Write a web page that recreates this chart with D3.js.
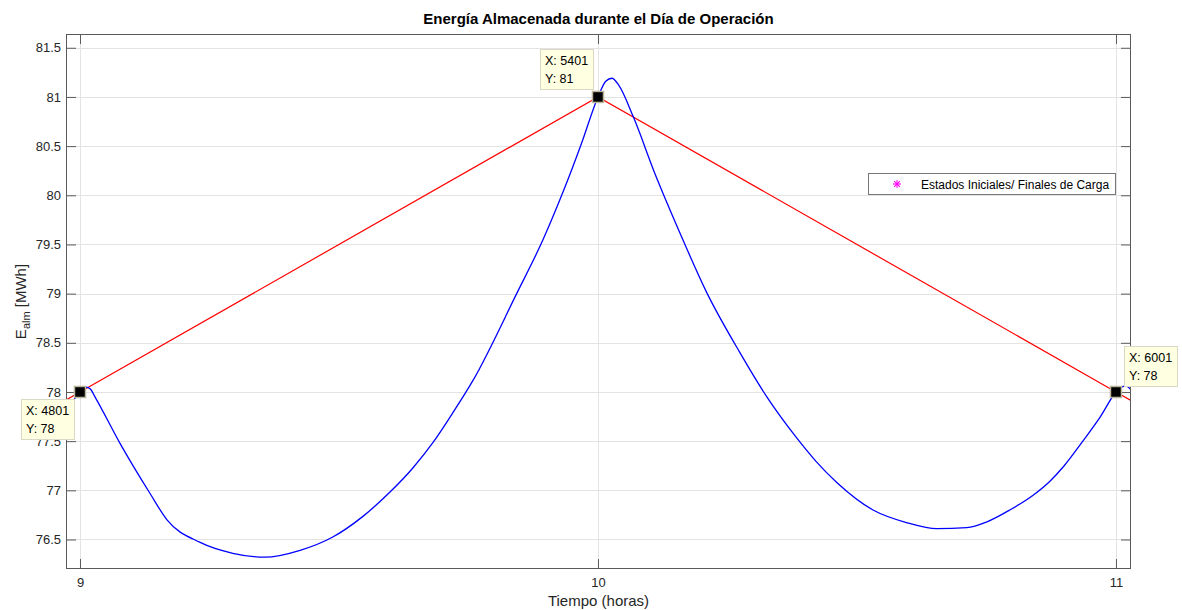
<!DOCTYPE html>
<html>
<head>
<meta charset="utf-8">
<script src="https://cdn.jsdelivr.net/npm/d3@7"></script>
<style>
  html, body { margin: 0; padding: 0; background: #fff; }
  svg { display: block; font-family: "Liberation Sans", Arial, Helvetica, sans-serif; }
</style>
</head>
<body>
<svg id="chart" width="1182" height="610"></svg>
<script>
// Stored energy over the operation day (hours vs MWh)
const hours = [8.973, 8.985, 9.0, 9.012, 9.02, 9.03, 9.077, 9.135, 9.168, 9.232, 9.295, 9.357, 9.425, 9.488, 9.545, 9.598, 9.643, 9.682, 9.72, 9.759, 9.843, 9.894, 9.933, 9.969, 10.0, 10.015, 10.027, 10.04, 10.068, 10.11, 10.158, 10.21, 10.274, 10.326, 10.384, 10.42, 10.461, 10.531, 10.597, 10.654, 10.712, 10.751, 10.795, 10.84, 10.872, 10.90, 10.936, 10.97, 11.0, 11.01, 11.02, 11.029];
const energy = [77.84, 77.9, 78.0, 78.05, 78.03, 77.94, 77.48, 76.97, 76.70, 76.47, 76.36, 76.32, 76.39, 76.525, 76.73, 76.98, 77.23, 77.49, 77.79, 78.12, 79.0, 79.55, 80.04, 80.54, 81.0, 81.16, 81.19, 81.12, 80.80, 80.22, 79.62, 79.01, 78.40, 77.95, 77.53, 77.30, 77.08, 76.80, 76.67, 76.61, 76.62, 76.68, 76.80, 76.95, 77.09, 77.25, 77.50, 77.75, 78.0, 78.05, 78.06, 78.02];

// Reference trajectory between initial / final charge states
const refHours = [8.95, 9, 10, 11, 11.05];
const refEnergy = [77.85, 78, 81, 78, 77.85];

// Initial / final charge states and their sample indices
const stateHours = [9, 10, 11];
const stateEnergy = [78, 81, 78];
const stateIndex = [4801, 5401, 6001];

const xTicks = [9, 10, 11];
const yTicks = [76.5, 77, 77.5, 78, 78.5, 79, 79.5, 80, 80.5, 81, 81.5];
const yTickLabels = ["76.5", "77", "77.5", "78", "78.5", "79", "79.5", "80", "80.5", "81", "81.5"];

const titleText = "Energía Almacenada durante el Día de Operación";
const xLabelText = "Tiempo (horas)";
const legendText = "Estados Iniciales/ Finales de Carga";

const L = 66, R = 1131, T = 34, B = 569;
const svg = d3.select("#chart");

const x = d3.scaleLinear().domain([8.973, 11.029]).range([L, R]);
const y = d3.scaleLinear().domain([76.2, 81.64]).range([B, T]);

const axisColor = "#5a5a5a";
const textColor = "#262626";
const gridColor = "#e3e3e3";

// Plot background
svg.append("rect").attr("x", L).attr("y", T).attr("width", R - L).attr("height", B - T).attr("fill", "#fff");

// Grid
const grid = svg.append("g");
grid.selectAll("line.gy").data(yTicks).join("line")
  .attr("x1", L).attr("x2", R)
  .attr("y1", d => Math.round(y(d)) + 0.5).attr("y2", d => Math.round(y(d)) + 0.5)
  .attr("stroke", gridColor).attr("stroke-width", 1);
grid.selectAll("line.gx").data(xTicks).join("line")
  .attr("y1", T).attr("y2", B)
  .attr("x1", d => Math.round(x(d)) + 0.5).attr("x2", d => Math.round(x(d)) + 0.5)
  .attr("stroke", gridColor).attr("stroke-width", 1);

// Clip for data lines
svg.append("clipPath").attr("id", "plotClip")
  .append("rect").attr("x", L).attr("y", T).attr("width", R - L).attr("height", B - T);

svg.append("path")
  .datum(refHours.map((h, i) => [h, refEnergy[i]]))
  .attr("clip-path", "url(#plotClip)")
  .attr("d", d3.line().x(d => x(d[0])).y(d => y(d[1])))
  .attr("fill", "none").attr("stroke", "#ff0000").attr("stroke-width", 1.2);

svg.append("path")
  .datum(hours.map((h, i) => [h, energy[i]]))
  .attr("clip-path", "url(#plotClip)")
  .attr("d", d3.line().x(d => x(d[0])).y(d => y(d[1])).curve(d3.curveMonotoneX))
  .attr("fill", "none").attr("stroke", "#0000ff").attr("stroke-width", 1.3);

// Asterisk marker
function asterisk(g, cx, cy, r, color) {
  [0, 45, 90, 135].forEach(deg => {
    const t = deg * Math.PI / 180;
    g.append("line")
      .attr("x1", cx - r * Math.cos(t)).attr("y1", cy - r * Math.sin(t))
      .attr("x2", cx + r * Math.cos(t)).attr("y2", cy + r * Math.sin(t))
      .attr("stroke", color).attr("stroke-width", 1.1);
  });
}
const marks = svg.append("g");
stateHours.forEach((h, i) => asterisk(marks, x(h), y(stateEnergy[i]), 4, "#ff00ff"));

// Axes (ticks pointing inward)
const fontTick = "13px";
const gx = svg.append("g").attr("transform", `translate(0,${B})`)
  .call(d3.axisBottom(x).tickValues(xTicks).tickSize(-10).tickPadding(9).tickFormat(d3.format("d")));
const gxTop = svg.append("g").attr("transform", `translate(0,${T})`)
  .call(d3.axisTop(x).tickValues(xTicks).tickSize(-10).tickFormat(""));
const gy = svg.append("g").attr("transform", `translate(${L},0)`)
  .call(d3.axisLeft(y).tickValues(yTicks).tickSize(-10).tickPadding(5).tickFormat((d, i) => yTickLabels[i]));
const gyRight = svg.append("g").attr("transform", `translate(${R},0)`)
  .call(d3.axisRight(y).tickValues(yTicks).tickSize(-10).tickFormat(""));

[gx, gxTop, gy, gyRight].forEach(g => {
  g.select(".domain").remove();
  g.selectAll(".tick line").attr("stroke", axisColor);
  g.selectAll(".tick text").attr("fill", textColor).style("font-size", fontTick)
    .style("font-family", '"Liberation Sans", Arial, sans-serif');
});

// Box
svg.append("rect").attr("x", L + 0.5).attr("y", T + 0.5).attr("width", R - L - 1).attr("height", B - T - 1)
  .attr("fill", "none").attr("stroke", axisColor).attr("stroke-width", 1);

// Title and labels
svg.append("text").attr("x", (L + R) / 2).attr("y", 24).attr("text-anchor", "middle")
  .style("font-size", "15px").style("font-weight", "bold").attr("fill", "#000")
  .text(titleText);

svg.append("text").attr("x", (L + R) / 2).attr("y", 606).attr("text-anchor", "middle")
  .style("font-size", "15px").attr("fill", textColor).text(xLabelText);

const yl = svg.append("text")
  .attr("transform", `translate(26,${(T + B) / 2}) rotate(-90)`)
  .attr("text-anchor", "middle").style("font-size", "15px").attr("fill", textColor);
yl.append("tspan").text("E");
yl.append("tspan").attr("dy", 4).style("font-size", "11px").text("alm");
yl.append("tspan").attr("dy", -4).text(" [MWh]");

// Legend
const lg = svg.append("g");
lg.append("rect").attr("x", 868.5).attr("y", 173.5).attr("width", 247).attr("height", 21)
  .attr("fill", "#fff").attr("stroke", "#777").attr("stroke-width", 1);
asterisk(lg, 897, 184, 4, "#ff00ff");
lg.append("text").attr("x", 921).attr("y", 188.5).style("font-size", "12px").attr("fill", "#000").text(legendText);

// Data tips on the charge states
const tipPlacement = [
  { dx: -6, dy: 7, ax: "right", ay: "top" },
  { dx: -5, dy: -8, ax: "right", ay: "bottom" },
  { dx: 8, dy: -6, ax: "left", ay: "bottom" }
];
stateHours.forEach((h, i) => {
  const px = x(h), py = y(stateEnergy[i]);
  const g = svg.append("g");
  const l1 = "X: " + stateIndex[i];
  const l2 = "Y: " + stateEnergy[i];
  const tmp = g.append("text").style("font-size", "12.5px").text(l1);
  const w = Math.ceil(tmp.node().getComputedTextLength()) + 9;
  tmp.remove();
  const hgt = 40;
  const p = tipPlacement[i];
  const bx = p.ax === "right" ? px + p.dx - w : px + p.dx;
  const by = p.ay === "top" ? py + p.dy : py + p.dy - hgt;
  g.append("rect").attr("x", Math.round(bx) + 0.5).attr("y", Math.round(by) + 0.5)
    .attr("width", w).attr("height", hgt)
    .attr("fill", "#ffffe1").attr("stroke", "#d9d9c6").attr("stroke-width", 1);
  g.append("text").attr("x", Math.round(bx) + 5).attr("y", Math.round(by) + 16)
    .style("font-size", "12.5px").attr("fill", "#000").text(l1);
  g.append("text").attr("x", Math.round(bx) + 5).attr("y", Math.round(by) + 34)
    .style("font-size", "12.5px").attr("fill", "#000").text(l2);
  g.append("rect").attr("x", px - 5.5).attr("y", py - 5.5).attr("width", 11).attr("height", 11)
    .attr("fill", "#000").attr("stroke", "#b9b49a").attr("stroke-width", 1.5);
});
</script>
</body>
</html>
